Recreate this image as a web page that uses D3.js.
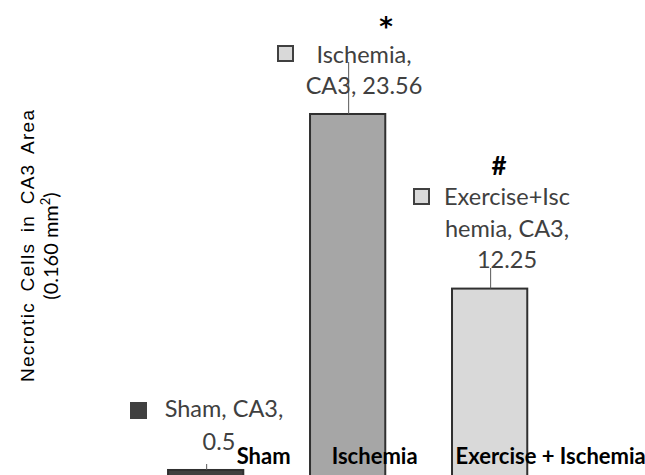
<!DOCTYPE html>
<html>
<head>
<meta charset="utf-8">
<script src="https://cdn.jsdelivr.net/npm/d3@7"></script>
<style>
  html, body { margin: 0; padding: 0; background: #fff; }
  svg { display: block; }
</style>
</head>
<body>
<svg id="chart" width="645" height="475"></svg>
<script>
// ---- data ----
const categories = ["Sham", "Ischemia", "Exercise + Ischemia"];
const values = [0.5, 23.56, 12.25];
const labelLines = [
  ["Sham, CA3,", "0.5"],
  ["Ischemia,", "CA3, 23.56"],
  ["Exercise+Isc", "hemia, CA3,", "12.25"]
];
const marks = ["", "*", "#"];
const barColors = ["#404040", "#a6a6a6", "#d9d9d9"];
const legendColors = ["#404040", "#d9d9d9", "#d9d9d9"];

// ---- layout (manual label placement, as in the original) ----
const labelLayout = [
  { cx: 224, base: 417, dy: 33, line2cx: 219, sq: [131, 403] },
  { cx: 364, base: 63, dy: 31, sq: [278, 46] },
  { cx: 507, base: 205, dy: 31.5, sq: [414, 189] }
];
const catDx = [58, 27, 61];
const markPos = [null, [386, 36, "'DejaVu Sans', sans-serif", 26], [499, 175, "Lato, sans-serif", 26]];
const leaderTop = [464, 62, 268];

const svg = d3.select("#chart");

const x = d3.scaleBand().domain(categories).range([101.3, 594]).padding(0.47);
const y = d3.scaleLinear().domain([0, 24]).range([477.7, 107.2]);

// bars
svg.append("g").selectAll("rect").data(categories).join("rect")
  .attr("x", d => x(d))
  .attr("y", (d, i) => y(values[i]))
  .attr("width", x.bandwidth())
  .attr("height", (d, i) => y(0) - y(values[i]))
  .attr("fill", (d, i) => barColors[i])
  .attr("stroke", "#303030")
  .attr("stroke-width", 2);

// leader lines
svg.append("g").selectAll("line").data(categories).join("line")
  .attr("x1", d => x(d) + x.bandwidth() / 2 + 1)
  .attr("x2", d => x(d) + x.bandwidth() / 2 + 1)
  .attr("y1", (d, i) => leaderTop[i])
  .attr("y2", (d, i) => y(values[i]))
  .attr("stroke", "#595959")
  .attr("stroke-width", 1);

// data labels
const lg = svg.append("g").attr("font-family", "Lato, 'Noto Sans', sans-serif")
  .attr("font-size", 23.5).attr("fill", "#404040");
labelLines.forEach((lines, i) => {
  const L = labelLayout[i];
  lines.forEach((t, j) => {
    lg.append("text")
      .attr("x", (j === 1 && L.line2cx) ? L.line2cx : L.cx)
      .attr("y", L.base + j * L.dy)
      .attr("text-anchor", "middle")
      .text(t);
  });
  lg.append("rect")
    .attr("x", L.sq[0]).attr("y", L.sq[1])
    .attr("width", 15).attr("height", 15)
    .attr("fill", legendColors[i])
    .attr("stroke", "#404040").attr("stroke-width", 2);
});

// significance marks
const mg = svg.append("g");
marks.forEach((m, i) => {
  if (!m || !markPos[i]) return;
  mg.append("text")
    .attr("x", markPos[i][0])
    .attr("y", markPos[i][1])
    .attr("text-anchor", "middle")
    .attr("font-family", markPos[i][2])
    .attr("font-weight", "bold")
    .attr("font-size", markPos[i][3])
    .attr("fill", "#000")
    .text(m);
});

// category labels (axis tick labels)
svg.append("g").selectAll("text").data(categories).join("text")
  .attr("x", (d, i) => x(d) + x.bandwidth() / 2 + catDx[i])
  .attr("y", 464)
  .attr("text-anchor", "middle")
  .attr("font-family", "Lato, sans-serif")
  .attr("font-weight", "bold")
  .attr("font-size", 22)
  .attr("fill", "#000")
  .text(d => d);

// y-axis title
svg.append("text")
  .attr("transform", "translate(34,246) rotate(-90)")
  .attr("text-anchor", "middle")
  .attr("font-family", "'Liberation Sans', Arial, sans-serif")
  .attr("font-size", 19)
  .attr("fill", "#000")
  .attr("word-spacing", 4)
  .attr("textLength", 272)
  .attr("lengthAdjust", "spacing")
  .text("Necrotic Cells in CA3 Area");

const t2 = svg.append("text")
  .attr("transform", "translate(58,246) rotate(-90)")
  .attr("text-anchor", "middle")
  .attr("font-family", "Lato, sans-serif")
  .attr("font-size", 20)
  .attr("fill", "#000");
t2.append("tspan").text("(0.160 mm");
t2.append("tspan").attr("font-size", 13).attr("dy", -8).text("2");
t2.append("tspan").attr("dy", 8).text(")");
</script>
</body>
</html>
